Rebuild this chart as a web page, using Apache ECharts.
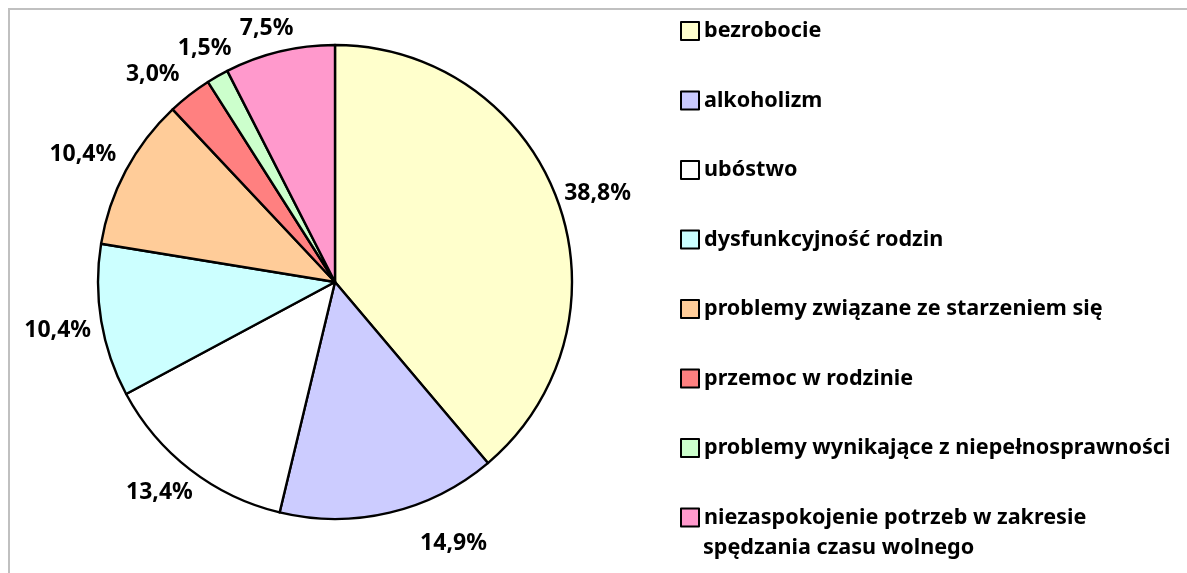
<!DOCTYPE html>
<html><head><meta charset="utf-8">
<script src="https://cdn.jsdelivr.net/npm/echarts@6/dist/echarts.min.js"></script>
<style>html,body{margin:0;padding:0;background:#fff}#c{width:1187px;height:573px}</style>
</head><body><div id="c"></div>
<script>
const categories = [
  'bezrobocie',
  'alkoholizm',
  'ubóstwo',
  'dysfunkcyjność rodzin',
  'problemy związane ze starzeniem się',
  'przemoc w rodzinie',
  'problemy wynikające z niepełnosprawności',
  'niezaspokojenie potrzeb w zakresie spędzania czasu wolnego'
];
const values = [38.8, 14.9, 13.4, 10.4, 10.4, 3.0, 1.5, 7.5];
const colors = ['#FFFFCC', '#CCCCFF', '#FFFFFF', '#CCFFFF', '#FFCC99', '#FF8080', '#CCFFCC', '#FF99CC'];
// small label nudges (px) to mimic the original label placement
const labelNudge = [[8, 5], [56, -2], [-10, -4], [-10, 4], [-13, 0], [-16, 6], [4, 2], [-5, 10]];

const FONT = '"Noto Sans"';
const LEGEND_SIZE = 21.6;
const chart = echarts.init(document.getElementById('c'), null, {renderer: 'canvas'});
const fmt = v => v.toFixed(1).replace('.', ',') + '%';

chart.setOption({
  animation: false,
  backgroundColor: '#fff',
  graphic: [
    {type: 'rect', shape: {x: 9, y: 9, width: 1400, height: 800},
     style: {fill: 'none', stroke: '#c0c0c0', lineWidth: 2}, silent: true, z: -1},
    {type: 'text', left: 703, top: 537,
     style: {text: 'spędzania czasu wolnego', font: 'bold ' + LEGEND_SIZE + 'px ' + FONT, fill: '#000'}}
  ],
  legend: {
    orient: 'vertical',
    left: 680,
    top: 20,
    padding: 0,
    itemWidth: 18,
    itemHeight: 18,
    itemGap: 47.5,
    icon: 'rect',
    itemStyle: {borderColor: '#000', borderWidth: 2},
    textStyle: {fontFamily: FONT, fontWeight: 'bold', fontSize: LEGEND_SIZE, color: '#000', lineHeight: 22},
    data: categories,
    formatter: n => n === categories[7] ? 'niezaspokojenie potrzeb w zakresie' : n
  },
  series: [
    {
      type: 'pie',
      center: [335, 282],
      radius: 237,
      startAngle: 90,
      clockwise: true,
      silent: true,
      data: categories.map((n, i) => ({name: n, value: values[i], itemStyle: {color: colors[i]}})),
      itemStyle: {borderColor: '#000', borderWidth: 2.4},
      label: {show: false},
      labelLine: {show: false}
    },
    {
      type: 'pie',
      center: [335, 282],
      radius: [237, 299],
      startAngle: 90,
      clockwise: true,
      silent: true,
      legendHoverLink: false,
      avoidLabelOverlap: false,
      labelLayout: {hideOverlap: false},
      data: categories.map((n, i) => ({
        name: n, value: values[i],
        label: {offset: labelNudge[i]}
      })),
      itemStyle: {color: 'rgba(0,0,0,0)', borderWidth: 0},
      label: {
        show: true, position: 'inside',
        formatter: p => fmt(p.value),
        fontFamily: FONT, fontWeight: 'bold', fontSize: 23, color: '#000'
      },
      labelLine: {show: false}
    }
  ]
});
</script></body></html>
